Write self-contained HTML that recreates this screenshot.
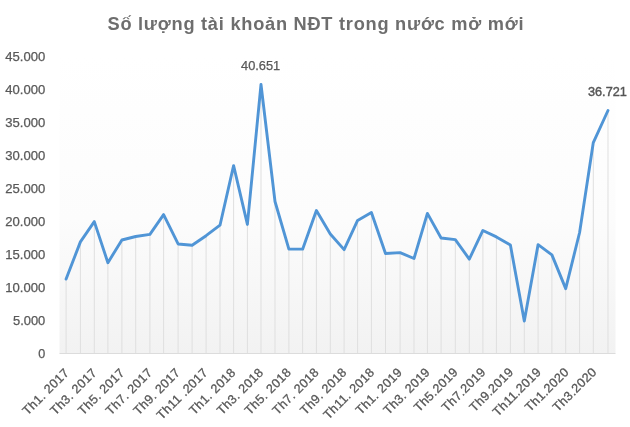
<!DOCTYPE html>
<html><head><meta charset="utf-8"><style>
html,body{margin:0;padding:0;background:#fff;width:630px;height:427px;overflow:hidden}
svg{display:block;filter:blur(0.35px)}
.ax{font-family:"Liberation Sans",sans-serif;font-size:12px;fill:#595959;stroke:#595959;stroke-width:0.25px}
.xl{font-family:"Liberation Sans",sans-serif;font-size:12.6px;letter-spacing:0.35px;fill:#595959;stroke:#595959;stroke-width:0.3px}
.ti{font-family:"Liberation Sans",sans-serif;font-size:18.8px;font-weight:bold;fill:#6e6e6e}
</style></head><body>
<svg width="630" height="427" viewBox="0 0 630 427">
<defs><linearGradient id="g" x1="0" y1="0" x2="0" y2="1"><stop offset="0" stop-color="#ffffff"/><stop offset="0.55" stop-color="#fcfcfc"/><stop offset="1" stop-color="#f2f2f2"/></linearGradient></defs>
<rect x="59.50" y="55.70" width="556.00" height="297.80" fill="url(#g)"/>
<line x1="66.10" y1="279.10" x2="66.10" y2="353.50" stroke="#dfdfdf" stroke-width="1"/>
<line x1="80.40" y1="241.86" x2="80.40" y2="353.50" stroke="#dfdfdf" stroke-width="1"/>
<line x1="94.30" y1="221.60" x2="94.30" y2="353.50" stroke="#dfdfdf" stroke-width="1"/>
<line x1="107.90" y1="262.70" x2="107.90" y2="353.50" stroke="#dfdfdf" stroke-width="1"/>
<line x1="121.90" y1="240.01" x2="121.90" y2="353.50" stroke="#dfdfdf" stroke-width="1"/>
<line x1="135.70" y1="236.53" x2="135.70" y2="353.50" stroke="#dfdfdf" stroke-width="1"/>
<line x1="149.90" y1="234.38" x2="149.90" y2="353.50" stroke="#dfdfdf" stroke-width="1"/>
<line x1="163.60" y1="214.60" x2="163.60" y2="353.50" stroke="#dfdfdf" stroke-width="1"/>
<line x1="178.10" y1="243.98" x2="178.10" y2="353.50" stroke="#dfdfdf" stroke-width="1"/>
<line x1="192.10" y1="245.30" x2="192.10" y2="353.50" stroke="#dfdfdf" stroke-width="1"/>
<line x1="206.10" y1="235.70" x2="206.10" y2="353.50" stroke="#dfdfdf" stroke-width="1"/>
<line x1="220.00" y1="225.20" x2="220.00" y2="353.50" stroke="#dfdfdf" stroke-width="1"/>
<line x1="233.60" y1="165.65" x2="233.60" y2="353.50" stroke="#dfdfdf" stroke-width="1"/>
<line x1="247.40" y1="224.45" x2="247.40" y2="353.50" stroke="#dfdfdf" stroke-width="1"/>
<line x1="261.00" y1="84.48" x2="261.00" y2="353.50" stroke="#dfdfdf" stroke-width="1"/>
<line x1="275.00" y1="201.49" x2="275.00" y2="353.50" stroke="#dfdfdf" stroke-width="1"/>
<line x1="288.90" y1="249.16" x2="288.90" y2="353.50" stroke="#dfdfdf" stroke-width="1"/>
<line x1="302.60" y1="249.16" x2="302.60" y2="353.50" stroke="#dfdfdf" stroke-width="1"/>
<line x1="316.40" y1="210.56" x2="316.40" y2="353.50" stroke="#dfdfdf" stroke-width="1"/>
<line x1="330.30" y1="234.05" x2="330.30" y2="353.50" stroke="#dfdfdf" stroke-width="1"/>
<line x1="344.10" y1="249.60" x2="344.10" y2="353.50" stroke="#dfdfdf" stroke-width="1"/>
<line x1="357.60" y1="220.48" x2="357.60" y2="353.50" stroke="#dfdfdf" stroke-width="1"/>
<line x1="371.40" y1="212.50" x2="371.40" y2="353.50" stroke="#dfdfdf" stroke-width="1"/>
<line x1="385.50" y1="253.57" x2="385.50" y2="353.50" stroke="#dfdfdf" stroke-width="1"/>
<line x1="400.10" y1="252.65" x2="400.10" y2="353.50" stroke="#dfdfdf" stroke-width="1"/>
<line x1="414.00" y1="258.50" x2="414.00" y2="353.50" stroke="#dfdfdf" stroke-width="1"/>
<line x1="427.40" y1="213.40" x2="427.40" y2="353.50" stroke="#dfdfdf" stroke-width="1"/>
<line x1="441.10" y1="238.00" x2="441.10" y2="353.50" stroke="#dfdfdf" stroke-width="1"/>
<line x1="455.30" y1="239.62" x2="455.30" y2="353.50" stroke="#dfdfdf" stroke-width="1"/>
<line x1="469.30" y1="259.10" x2="469.30" y2="353.50" stroke="#dfdfdf" stroke-width="1"/>
<line x1="482.90" y1="230.44" x2="482.90" y2="353.50" stroke="#dfdfdf" stroke-width="1"/>
<line x1="496.40" y1="236.90" x2="496.40" y2="353.50" stroke="#dfdfdf" stroke-width="1"/>
<line x1="510.40" y1="245.10" x2="510.40" y2="353.50" stroke="#dfdfdf" stroke-width="1"/>
<line x1="524.30" y1="320.97" x2="524.30" y2="353.50" stroke="#dfdfdf" stroke-width="1"/>
<line x1="538.10" y1="244.60" x2="538.10" y2="353.50" stroke="#dfdfdf" stroke-width="1"/>
<line x1="551.90" y1="254.90" x2="551.90" y2="353.50" stroke="#dfdfdf" stroke-width="1"/>
<line x1="565.70" y1="288.65" x2="565.70" y2="353.50" stroke="#dfdfdf" stroke-width="1"/>
<line x1="579.60" y1="232.50" x2="579.60" y2="353.50" stroke="#dfdfdf" stroke-width="1"/>
<line x1="593.30" y1="142.59" x2="593.30" y2="353.50" stroke="#dfdfdf" stroke-width="1"/>
<line x1="608.00" y1="110.49" x2="608.00" y2="353.50" stroke="#dfdfdf" stroke-width="1"/>
<line x1="59.50" y1="353.50" x2="615.50" y2="353.50" stroke="#dcdcdc" stroke-width="1"/>
<polyline points="66.10,279.10 80.40,241.86 94.30,221.60 107.90,262.70 121.90,240.01 135.70,236.53 149.90,234.38 163.60,214.60 178.10,243.98 192.10,245.30 206.10,235.70 220.00,225.20 233.60,165.65 247.40,224.45 261.00,84.48 275.00,201.49 288.90,249.16 302.60,249.16 316.40,210.56 330.30,234.05 344.10,249.60 357.60,220.48 371.40,212.50 385.50,253.57 400.10,252.65 414.00,258.50 427.40,213.40 441.10,238.00 455.30,239.62 469.30,259.10 482.90,230.44 496.40,236.90 510.40,245.10 524.30,320.97 538.10,244.60 551.90,254.90 565.70,288.65 579.60,232.50 593.30,142.59 608.00,110.49" fill="none" stroke="#5095d6" stroke-width="2.9" stroke-linejoin="round" stroke-linecap="round"/>
<text x="38.30" y="358.40" textLength="7" lengthAdjust="spacingAndGlyphs" class="ax">0</text>
<text x="13.00" y="325.31" textLength="32.3" lengthAdjust="spacingAndGlyphs" class="ax">5.000</text>
<text x="5.30" y="292.22" textLength="40" lengthAdjust="spacingAndGlyphs" class="ax">10.000</text>
<text x="5.30" y="259.13" textLength="40" lengthAdjust="spacingAndGlyphs" class="ax">15.000</text>
<text x="5.30" y="226.04" textLength="40" lengthAdjust="spacingAndGlyphs" class="ax">20.000</text>
<text x="5.30" y="192.96" textLength="40" lengthAdjust="spacingAndGlyphs" class="ax">25.000</text>
<text x="5.30" y="159.87" textLength="40" lengthAdjust="spacingAndGlyphs" class="ax">30.000</text>
<text x="5.30" y="126.78" textLength="40" lengthAdjust="spacingAndGlyphs" class="ax">35.000</text>
<text x="5.30" y="93.69" textLength="40" lengthAdjust="spacingAndGlyphs" class="ax">40.000</text>
<text x="5.30" y="60.60" textLength="40" lengthAdjust="spacingAndGlyphs" class="ax">45.000</text>
<text x="241" y="69.9" textLength="39.2" lengthAdjust="spacingAndGlyphs" class="ax">40.651</text>
<text x="588" y="96" textLength="38.8" lengthAdjust="spacingAndGlyphs" class="ax" style="stroke-width:0.4px;fill:#555;stroke:#555">36.721</text>
<text transform="translate(69.90,373.50) rotate(-45)" text-anchor="end" class="xl">Th1. 2017</text>
<text transform="translate(97.66,373.46) rotate(-45)" text-anchor="end" class="xl">Th3. 2017</text>
<text transform="translate(125.43,373.42) rotate(-45)" text-anchor="end" class="xl">Th5. 2017</text>
<text transform="translate(153.19,373.37) rotate(-45)" text-anchor="end" class="xl">Th7. 2017</text>
<text transform="translate(180.96,373.33) rotate(-45)" text-anchor="end" class="xl">Th9. 2017</text>
<text transform="translate(208.72,373.29) rotate(-45)" text-anchor="end" class="xl">Th11 .2017</text>
<text transform="translate(236.49,373.25) rotate(-45)" text-anchor="end" class="xl">Th1. 2018</text>
<text transform="translate(264.25,373.21) rotate(-45)" text-anchor="end" class="xl">Th3. 2018</text>
<text transform="translate(292.01,373.16) rotate(-45)" text-anchor="end" class="xl">Th5. 2018</text>
<text transform="translate(319.78,373.12) rotate(-45)" text-anchor="end" class="xl">Th7. 2018</text>
<text transform="translate(347.54,373.08) rotate(-45)" text-anchor="end" class="xl">Th9. 2018</text>
<text transform="translate(375.31,373.04) rotate(-45)" text-anchor="end" class="xl">Th11. 2018</text>
<text transform="translate(403.07,372.99) rotate(-45)" text-anchor="end" class="xl">Th1. 2019</text>
<text transform="translate(430.83,372.95) rotate(-45)" text-anchor="end" class="xl">Th3. 2019</text>
<text transform="translate(458.60,372.91) rotate(-45)" text-anchor="end" class="xl">Th5.2019</text>
<text transform="translate(486.36,372.87) rotate(-45)" text-anchor="end" class="xl">Th7.2019</text>
<text transform="translate(514.13,372.83) rotate(-45)" text-anchor="end" class="xl">Th9.2019</text>
<text transform="translate(541.89,372.78) rotate(-45)" text-anchor="end" class="xl">Th11.2019</text>
<text transform="translate(569.66,372.74) rotate(-45)" text-anchor="end" class="xl">Th1.2020</text>
<text transform="translate(597.42,372.70) rotate(-45)" text-anchor="end" class="xl">Th3.2020</text>
<text transform="translate(107.5,29.9) scale(0.97,1)" x="0" y="0" textLength="428.87" lengthAdjust="spacing" class="ti">Số lượng tài khoản NĐT trong nước mở mới</text>
</svg>
</body></html>
